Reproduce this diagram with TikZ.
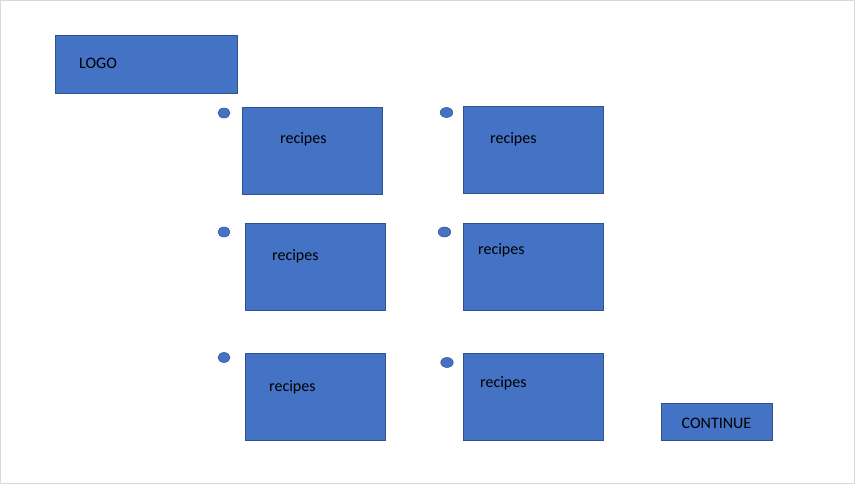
\documentclass[tikz,border=0pt]{standalone}
\usepackage{fontspec}
\setmainfont{Carlito}
\definecolor{boxfill}{HTML}{4472C4}
\definecolor{boxline}{HTML}{2F528F}
\definecolor{frame}{HTML}{D9D9D9}
\begin{document}
\begin{tikzpicture}[x=1pt,y=-1pt,
  card/.style={draw=boxline, fill=boxfill, line width=0.8pt},
  dot/.style={draw=boxline, fill=boxfill, line width=0.5pt},
  lbl/.style={font=\fontsize{16}{19}\selectfont, text=black, inner sep=0pt, anchor=west}]
\useasboundingbox (0,0) rectangle (855,484);
\draw[frame, line width=1.2pt] (0.6,0.6) rectangle (854.4,483.4);
% logo
\draw[card] (55,35) rectangle (237,93);
\node[lbl] (logo) at (79,63) {LOGO};
% recipe cards
\draw[card] (242,107) rectangle (382,194);
\node[lbl] (r1) at (280,139) {recipes};
\draw[card] (463,106) rectangle (603,193);
\node[lbl] (r2) at (490,139) {recipes};
\draw[card] (245,223) rectangle (385,310);
\node[lbl] (r3) at (272,256) {recipes};
\draw[card] (463,223) rectangle (603,310);
\node[lbl] (r4) at (478,250) {recipes};
\draw[card] (245,353) rectangle (385,440);
\node[lbl] (r5) at (269,387) {recipes};
\draw[card] (463,353) rectangle (603,440);
\node[lbl] (r6) at (480,383) {recipes};
% dots
\draw[dot] (224,113) ellipse (6 and 5);
\draw[dot] (446.5,112.5) ellipse (6.3 and 5);
\draw[dot] (224,232) ellipse (6 and 5);
\draw[dot] (444.5,232) ellipse (6.3 and 5);
\draw[dot] (224,357.5) ellipse (6 and 5);
\draw[dot] (447,362.5) ellipse (6.3 and 5);
% continue
\draw[card] (661,403) rectangle (772,440);
\node[lbl, anchor=center] (cont) at (716.5,423) {CONTINUE};
\end{tikzpicture}
\end{document}
